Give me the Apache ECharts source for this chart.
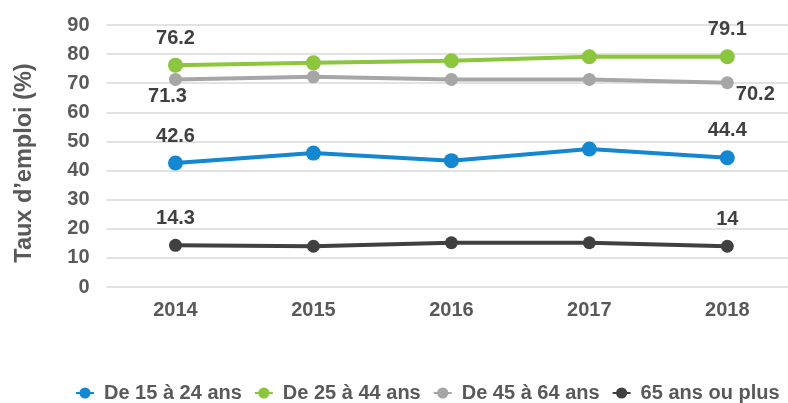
<!DOCTYPE html>
<html><head><meta charset="utf-8">
<script src="https://cdn.jsdelivr.net/npm/echarts@6/dist/echarts.min.js"></script>
<style>html,body{margin:0;padding:0;background:#fff}#c{width:788px;height:403px}</style>
</head><body><div id="c"></div>
<script>
const years = [2014, 2015, 2016, 2017, 2018];
const seriesNames = ['De 15 à 24 ans', 'De 25 à 44 ans', 'De 45 à 64 ans', '65 ans ou plus'];
const v15_24 = [42.6, 46.0, 43.4, 47.4, 44.4];
const v25_44 = [76.2, 77.0, 77.7, 79.1, 79.1];
const v45_64 = [71.3, 72.2, 71.3, 71.3, 70.2];
const v65 = [14.3, 14.0, 15.2, 15.2, 14.0];
const yTicks = [0, 10, 20, 30, 40, 50, 60, 70, 80, 90];
const yTitle = 'Taux d’emploi (%)';

const colors = ['#1387cf', '#8cc63e', '#a6a6a6', '#404040'];
const values = [v15_24, v25_44, v45_64, v65];
const symSizes = [15, 15, 13, 13];
const labelOffsets = [
  [[0, -27], [0, -27]],
  [[0, -27], [0, -27]],
  [[-8, 17], [28, 12]],
  [[0, -27], [0, -27]]
];
const font = '"Liberation Sans", Arial, sans-serif';

const series = values.map((vals, i) => ({
  name: seriesNames[i],
  type: 'line',
  data: vals.map((v, j) => ({
    value: [years[j], v],
    label: (j === 0 || j === vals.length - 1) ? {
      show: true,
      position: 'inside',
      offset: labelOffsets[i][j === 0 ? 0 : 1],
      formatter: () => String(v),
      color: '#404040',
      fontSize: 20,
      fontWeight: 'bold',
      fontFamily: font
    } : { show: false }
  })),
  symbol: 'circle',
  symbolSize: symSizes[i],
  lineStyle: { width: 4, color: colors[i] },
  itemStyle: { color: colors[i] },
  emphasis: { disabled: true },
  z: 2 + i
}));

const chart = echarts.init(document.getElementById('c'), null, { renderer: 'canvas' });
chart.setOption({
  animation: false,
  color: colors,
  grid: { left: 106.5, right: 0, top: 25, bottom: 116 },
  xAxis: {
    type: 'value',
    min: 2013.5,
    max: 2018.44,
    interval: 0.5,
    axisLine: { show: false },
    axisTick: { show: false },
    splitLine: { show: false },
    axisLabel: {
      margin: 13,
      color: '#595959',
      fontSize: 20,
      fontWeight: 'bold',
      fontFamily: font,
      formatter: v => Number.isInteger(v) && years.includes(v) ? String(v) : '',
      showMaxLabel: false
    }
  },
  yAxis: {
    type: 'value',
    min: yTicks[0],
    max: yTicks[yTicks.length - 1],
    interval: 10,
    name: yTitle,
    nameLocation: 'middle',
    nameGap: 70,
    nameTextStyle: { color: '#595959', fontSize: 23.5, fontWeight: 'bold', fontFamily: font, padding: [0, 14, 0, 0] },
    axisLine: { show: false },
    axisTick: { show: false },
    splitLine: { show: true, lineStyle: { color: '#d9d9d9', width: 1.5 } },
    axisLabel: { margin: 17, color: '#595959', fontSize: 20, fontWeight: 'bold', fontFamily: font }
  },
  legend: {
    top: 383,
    left: 75,
    right: 0,
    padding: 0,
    itemGap: 12,
    itemWidth: 18,
    itemHeight: 14,
    textStyle: { color: '#595959', fontSize: 20, fontWeight: 'bold', fontFamily: font, padding: [0, 0, 0, 5] },
    data: seriesNames
  },
  series
});
</script></body></html>
